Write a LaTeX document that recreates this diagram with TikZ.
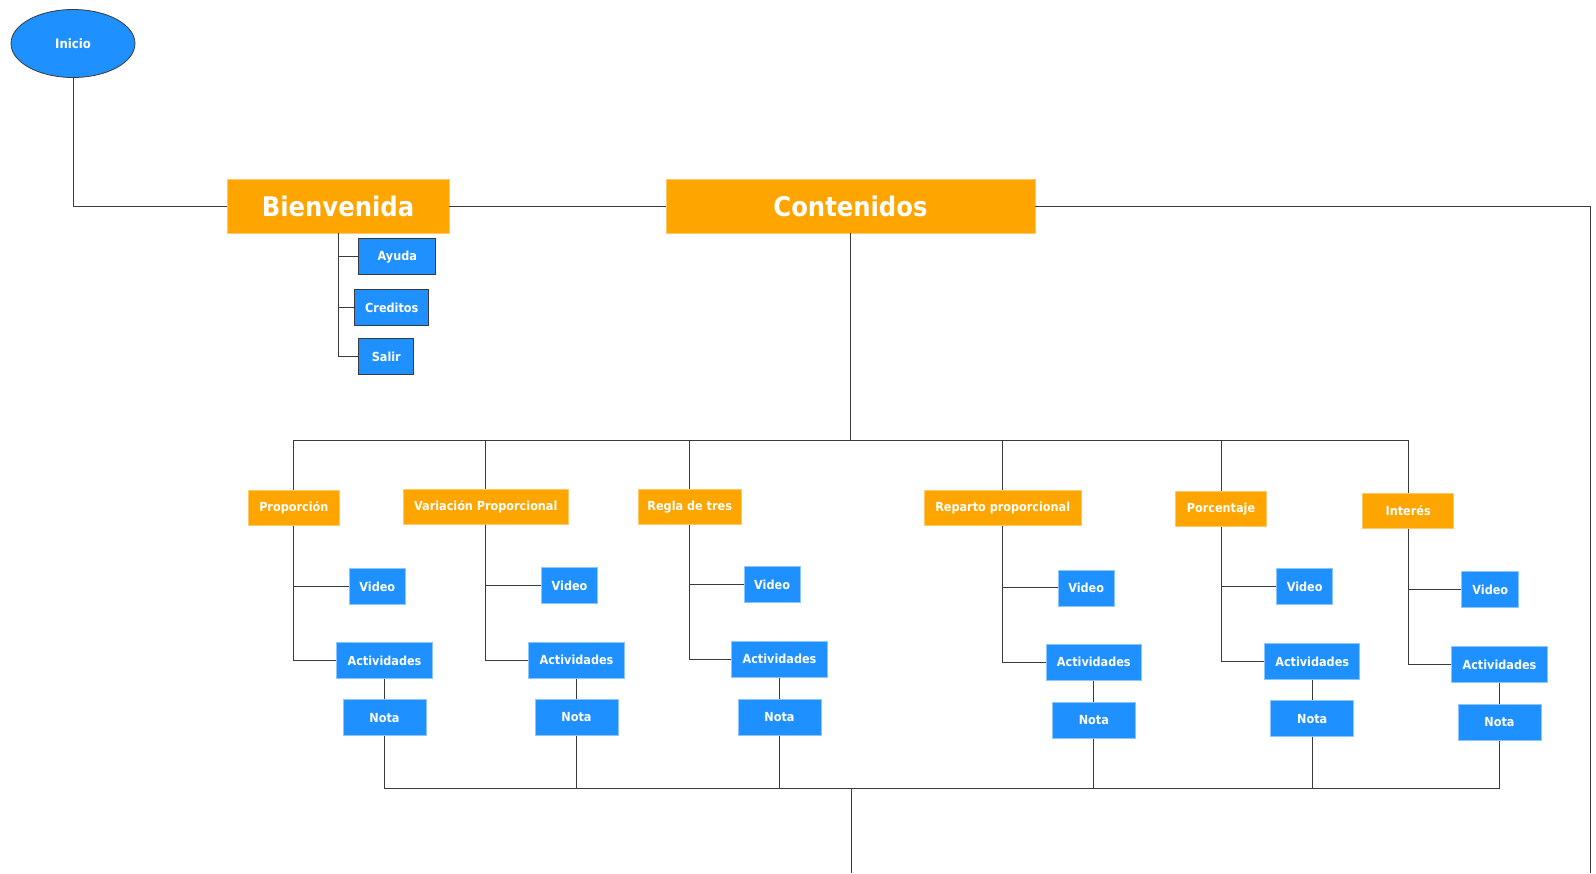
\documentclass[tikz,border=0pt]{standalone}
\usepackage{fontspec}
\newfontfamily\dfont{DejaVu Sans Condensed}
\usetikzlibrary{shapes.geometric}
\definecolor{orng}{HTML}{FFA500}
\definecolor{orngb}{HTML}{FFC966}
\definecolor{blu}{HTML}{1E90FF}
\definecolor{blub}{HTML}{8CC6FF}
\definecolor{lin}{HTML}{3A3A3A}
\tikzset{
  base/.style={rectangle, inner sep=0pt, text=white, font=\dfont\bfseries\fontsize{12.5}{14}\selectfont},
  big/.style={base, fill=orng, draw=orngb, line width=0.8pt, minimum height=54pt, font=\dfont\bfseries\fontsize{27}{30}\selectfont},
  cat/.style={base, fill=orng, draw=orngb, line width=0.8pt, minimum height=35pt},
  leaf/.style={base, fill=blu, draw=blub, line width=0.8pt, minimum height=36pt},
  menu/.style={base, fill=blu, draw=lin, line width=1.3pt, minimum height=36pt},
  conn/.style={draw=lin, line width=1pt}
}
\begin{document}
\begin{tikzpicture}[x=1pt,y=-1pt]
\useasboundingbox[fill=white] (0,0) rectangle (1596,873);
\node[ellipse, fill=blu, draw=lin, line width=0.8pt, minimum width=124pt, minimum height=68pt, inner sep=0pt, text=white, font=\dfont\bfseries\fontsize{13}{15}\selectfont] (ini) at (73,43.5) {Inicio};
\node[big, minimum width=222pt] (bien) at (338,206) {Bienvenida};
\node[big, minimum width=369pt] (cont) at (850.5,206) {Contenidos};
\node[menu, minimum width=77pt] (ayu) at (397.3,256.8) {Ayuda};
\node[menu, minimum width=74pt] (cre) at (391.8,307.7) {Creditos};
\node[menu, minimum width=55pt] (sal) at (386.3,356.8) {Salir};
\coordinate (rend) at (1590,873);
\coordinate (busT) at (850.5,440.8);
\coordinate (busB) at (851,788);
\coordinate (bend) at (851,873);
\draw[conn] (ini.south) |- (bien.west);
\draw[conn] (bien.east) -- (cont.west);
\draw[conn] (cont.east) -| (rend);
\draw[conn] (bien.south) |- (ayu.west);
\draw[conn] (bien.south) |- (cre.west);
\draw[conn] (bien.south) |- (sal.west);
\draw[conn] (cont.south) -- (busT);
\draw[conn] (busB) -- (bend);
\foreach \n/\t/\cx/\cy/\w/\vx/\vy/\vw/\ax/\ay/\aw/\ny in {
  a/Proporción/293.8/507.8/91/377.3/586.7/56/384.5/660.7/96/717.7,
  b/Variación Proporcional/485.8/506.8/165/569.6/585.8/56/576.5/660.2/96/717.2,
  c/Regla de tres/689.7/507/103/772.1/584.8/56/779.5/659.2/96/717.2,
  d/Reparto proporcional/1002.7/508/157/1086.2/587.9/56/1093.8/662.2/95/720.2,
  e/Porcentaje/1221/509/91/1304.7/586.7/56/1312.2/661.7/95/718.7,
  f/Interés/1408.2/511/91/1490.3/589.5/57/1499.5/664.5/96/722.5}{
  \node[cat, minimum width=\w pt] (c\n) at (\cx,\cy) {\t};
  \node[leaf, minimum width=\vw pt] (v\n) at (\vx,\vy) {Video};
  \node[leaf, minimum width=\aw pt] (a\n) at (\ax,\ay) {Actividades};
  \node[leaf, minimum width=83pt] (n\n) at (\ax,\ny) {Nota};
  \draw[conn] (busT) -| (c\n.north);
  \draw[conn] (c\n.south) |- (v\n.west);
  \draw[conn] (c\n.south) |- (a\n.west);
  \draw[conn] (a\n.south) -- (n\n.north);
  \draw[conn] (n\n.south) |- (busB);
}
\end{tikzpicture}
\end{document}
